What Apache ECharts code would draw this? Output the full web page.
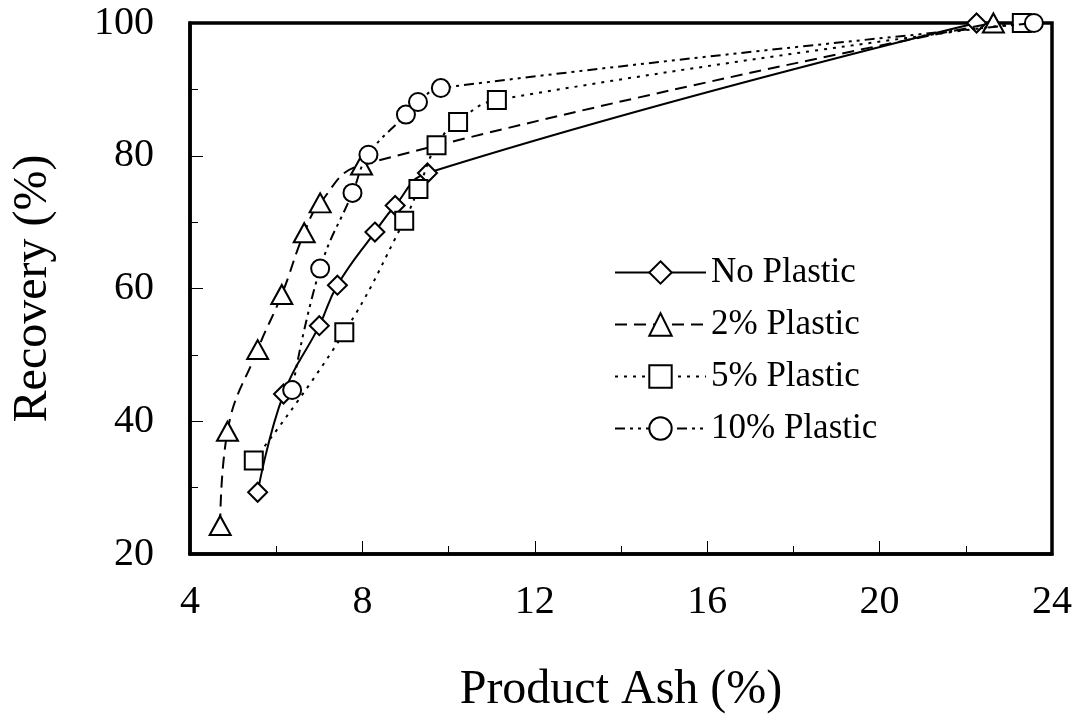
<!DOCTYPE html>
<html>
<head>
<meta charset="utf-8">
<script src="https://cdn.jsdelivr.net/npm/echarts@6/dist/echarts.min.js"></script>
<style>html,body{margin:0;padding:0;background:#fff}#c{width:1078px;height:719px}</style>
</head>
<body>
<div id="c"></div>
<script>
var seriesNames = ['No Plastic', '2% Plastic', '5% Plastic', '10% Plastic'];
var noPlasticAsh = [5.57, 6.17, 7.00, 7.42, 8.29, 8.76, 9.51, 22.25];
var noPlasticRec = [29.3, 44.1, 54.4, 60.5, 68.5, 72.5, 77.4, 100];
var p2Ash = [4.70, 4.87, 5.57, 6.13, 6.65, 7.02, 7.98, 22.64];
var p2Rec = [24.3, 38.5, 50.8, 59.1, 68.4, 72.9, 78.6, 100];
var p5Ash = [5.48, 7.58, 8.97, 9.30, 9.72, 10.22, 11.12, 23.30];
var p5Rec = [34.1, 53.4, 70.2, 75.0, 81.6, 85.1, 88.4, 100];
var p10Ash = [6.37, 7.02, 7.77, 8.14, 9.01, 9.29, 9.82, 23.58];
var p10Rec = [44.7, 63.0, 74.4, 80.15, 86.2, 88.1, 90.2, 100];
var xTicks = [4, 8, 12, 16, 20, 24];
var yTicks = [20, 40, 60, 80, 100];

function pairs(xs, ys) { return xs.map(function (x, i) { return [x, ys[i]]; }); }
var FONT = "'Liberation Serif', 'Times New Roman', serif";

var styles = [
  { symbol: 'diamond', size: [19, 19], dash: 'solid' },
  { symbol: 'triangle', size: [21, 19], dash: [12, 7] },
  { symbol: 'rect', size: [18, 18], dash: [3, 6] },
  { symbol: 'circle', size: [18, 18], dash: [10, 5, 3, 5, 3, 5] }
];
var datas = [pairs(noPlasticAsh, noPlasticRec), pairs(p2Ash, p2Rec), pairs(p5Ash, p5Rec), pairs(p10Ash, p10Rec)];

var chart = echarts.init(document.getElementById('c'), null, { renderer: 'canvas' });
chart.setOption({
  animation: false,
  backgroundColor: '#fff',
  textStyle: { fontFamily: FONT, color: '#000' },
  grid: { left: 190, right: 26, top: 23, bottom: 164, show: true, borderColor: '#000', borderWidth: 3.5, containLabel: false },
  legend: {
    orient: 'vertical', left: 609, top: 250, itemWidth: 91, itemHeight: 28, itemGap: 17,
    textStyle: { fontFamily: FONT, fontSize: 35, color: '#000' },
    data: seriesNames
  },
  xAxis: {
    type: 'value', min: 4, max: 24, interval: 4,
    name: 'Product Ash (%)', nameLocation: 'middle', nameGap: 112,
    nameTextStyle: { fontFamily: FONT, fontSize: 48, color: '#000' },
    axisLine: { lineStyle: { color: '#000', width: 3.5 } },
    axisTick: { inside: true, length: 13, lineStyle: { color: '#000', width: 1 } },
    minorTick: { show: true, splitNumber: 2, length: 8, lineStyle: { color: '#000', width: 1 } },
    axisLabel: { fontFamily: FONT, fontSize: 40, color: '#000', margin: 28 },
    splitLine: { show: false }
  },
  yAxis: {
    type: 'value', min: 20, max: 100, interval: 20,
    name: 'Recovery (%)', nameLocation: 'middle', nameGap: 133, nameRotate: 90,
    nameTextStyle: { fontFamily: FONT, fontSize: 48, color: '#000' },
    axisLine: { lineStyle: { color: '#000', width: 3.5 } },
    axisTick: { inside: true, length: 13, lineStyle: { color: '#000', width: 1 } },
    minorTick: { show: true, splitNumber: 2, length: 8, lineStyle: { color: '#000', width: 1 } },
    axisLabel: { fontFamily: FONT, fontSize: 40, color: '#000', margin: 36 },
    splitLine: { show: false }
  },
  series: seriesNames.map(function (n, i) {
    return {
      name: n, type: 'line', data: datas[i], smooth: 0.45,
      symbol: styles[i].symbol, symbolSize: styles[i].size, showAllSymbol: true,
      lineStyle: { color: '#000', width: 2, type: styles[i].dash },
      itemStyle: { color: '#fff', borderColor: '#000', borderWidth: 2 },
      z: 2 + i
    };
  })
});
</script>
</body>
</html>
